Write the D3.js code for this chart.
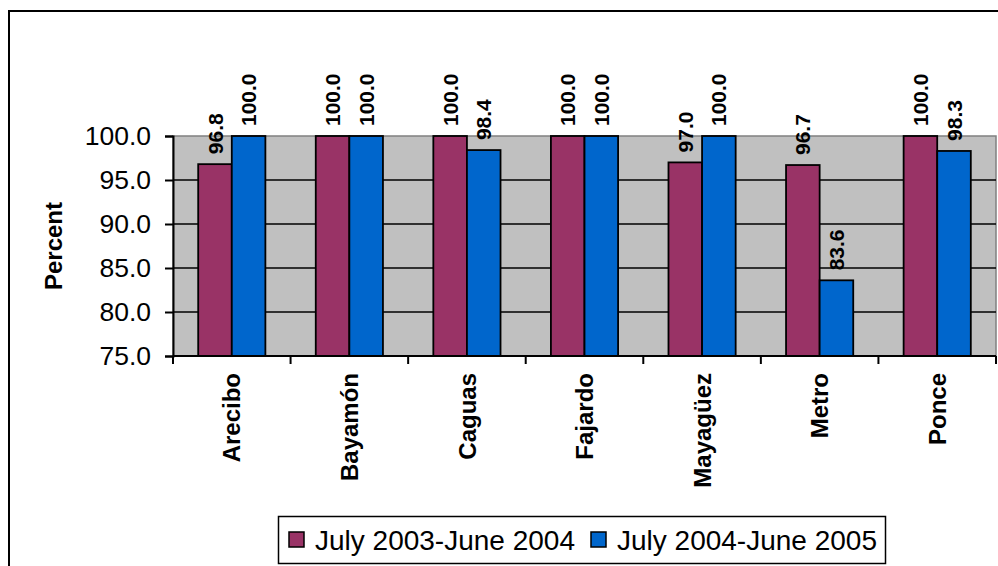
<!DOCTYPE html>
<html>
<head>
<meta charset="utf-8">
<script src="https://cdn.jsdelivr.net/npm/d3@7"></script>
<style>
  html, body { margin: 0; padding: 0; background: #fff; }
  svg { display: block; font-family: Arial, "Liberation Sans", sans-serif; }
</style>
</head>
<body>
<svg id="chart" width="998" height="566"></svg>
<script>
// Regions and the two reporting periods
const regions = ["Arecibo", "Bayamón", "Caguas", "Fajardo", "Mayagüez", "Metro", "Ponce"];
const periods = ["July 2003-June 2004", "July 2004-June 2005"];
const values2003 = [96.8, 100.0, 100.0, 100.0, 97.0, 96.7, 100.0];
const values2004 = [100.0, 100.0, 98.4, 100.0, 100.0, 83.6, 98.3];
const yTicks = [75, 80, 85, 90, 95, 100];
const colors = ["#993366", "#0066CC"];
const yTitle = "Percent";

const svg = d3.select("#chart");
const plot = { left: 173, right: 996, top: 136, bottom: 356 };

// outer chart frame
svg.append("rect")
  .attr("x", 9).attr("y", 11)
  .attr("width", 1100).attr("height", 700)
  .attr("fill", "#fff").attr("stroke", "#000").attr("stroke-width", 2);

const x0 = d3.scaleBand().domain(regions).range([plot.left, plot.right]).padding(0);
const x1 = d3.scaleBand().domain(periods).range([0, x0.bandwidth()])
  .paddingInner(0).paddingOuter(0.75);
const y = d3.scaleLinear().domain([75, 100]).range([plot.bottom, plot.top]);

// plot background
svg.append("rect")
  .attr("x", plot.left).attr("y", plot.top)
  .attr("width", plot.right - plot.left).attr("height", plot.bottom - plot.top)
  .attr("fill", "#C0C0C0").attr("stroke", "#808080").attr("stroke-width", 1.5);

// horizontal gridlines
svg.append("g").selectAll("line")
  .data(yTicks.filter(t => t > 75 && t < 100))
  .join("line")
  .attr("x1", plot.left).attr("x2", plot.right)
  .attr("y1", d => y(d)).attr("y2", d => y(d))
  .attr("stroke", "#000").attr("stroke-width", 1.5);

// bars
const rows = regions.map((r, i) => ({ region: r, vals: [values2003[i], values2004[i]] }));
const groups = svg.append("g").selectAll("g")
  .data(rows).join("g")
  .attr("transform", d => `translate(${x0(d.region)},0)`);

groups.selectAll("rect")
  .data(d => d.vals.map((v, k) => ({ period: periods[k], v, k })))
  .join("rect")
  .attr("x", d => x1(d.period))
  .attr("y", d => y(d.v))
  .attr("width", x1.bandwidth())
  .attr("height", d => y(75) - y(d.v))
  .attr("fill", d => colors[d.k])
  .attr("stroke", "#000").attr("stroke-width", 1.8);

// value labels above bars
groups.selectAll("text")
  .data(d => d.vals.map((v, k) => ({ period: periods[k], v, k })))
  .join("text")
  .attr("transform", d => `translate(${x1(d.period) + x1.bandwidth() / 2},${y(d.v) - 10}) rotate(-90)`)
  .attr("dy", "0.36em")
  .attr("text-anchor", "start")
  .attr("font-size", 21).attr("font-weight", "bold")
  .text(d => d3.format(".1f")(d.v));

// y axis
const yAxis = svg.append("g")
  .attr("transform", `translate(${plot.left},0)`)
  .call(d3.axisLeft(y).tickValues(yTicks).tickFormat(d3.format(".1f")).tickSize(8).tickPadding(14));
yAxis.select(".domain").attr("stroke", "#000").attr("stroke-width", 2);
yAxis.selectAll(".tick line").attr("stroke", "#000").attr("stroke-width", 2);
yAxis.selectAll(".tick text")
  .attr("font-size", 26.5).attr("fill", "#000")
  .attr("font-family", "Arial, 'Liberation Sans', sans-serif");

// x axis line and category separators
svg.append("line")
  .attr("x1", plot.left).attr("x2", plot.right)
  .attr("y1", plot.bottom).attr("y2", plot.bottom)
  .attr("stroke", "#000").attr("stroke-width", 2);
const bounds = regions.map(r => x0(r)).concat([x0.range()[1]]);
svg.append("g").selectAll("line")
  .data(bounds).join("line")
  .attr("x1", d => d).attr("x2", d => d)
  .attr("y1", plot.bottom).attr("y2", plot.bottom + 8)
  .attr("stroke", "#000").attr("stroke-width", 2);

// category labels
svg.append("g").selectAll("text")
  .data(regions).join("text")
  .attr("transform", d => `translate(${x0(d) + x0.bandwidth() / 2},${plot.bottom + 17}) rotate(-90)`)
  .attr("dy", "0.36em")
  .attr("text-anchor", "end")
  .attr("font-size", 24).attr("font-weight", "bold")
  .text(d => d);

// y axis title
svg.append("text")
  .attr("transform", `translate(53,${(plot.top + plot.bottom) / 2}) rotate(-90)`)
  .attr("dy", "0.36em")
  .attr("text-anchor", "middle")
  .attr("font-size", 24).attr("font-weight", "bold")
  .text(yTitle);

// legend
const legend = svg.append("g");
legend.append("rect")
  .attr("x", 278.5).attr("y", 516.5).attr("width", 607).attr("height", 47)
  .attr("fill", "#fff").attr("stroke", "#000").attr("stroke-width", 1.5);
const legendX = [289, 591];
periods.forEach((p, k) => {
  legend.append("rect")
    .attr("x", legendX[k]).attr("y", 532).attr("width", 15).attr("height", 15)
    .attr("fill", colors[k]).attr("stroke", "#000").attr("stroke-width", 1.5);
  legend.append("text")
    .attr("x", legendX[k] + 26).attr("y", 550)
    .attr("font-size", 28)
    .text(p);
});
</script>
</body>
</html>
